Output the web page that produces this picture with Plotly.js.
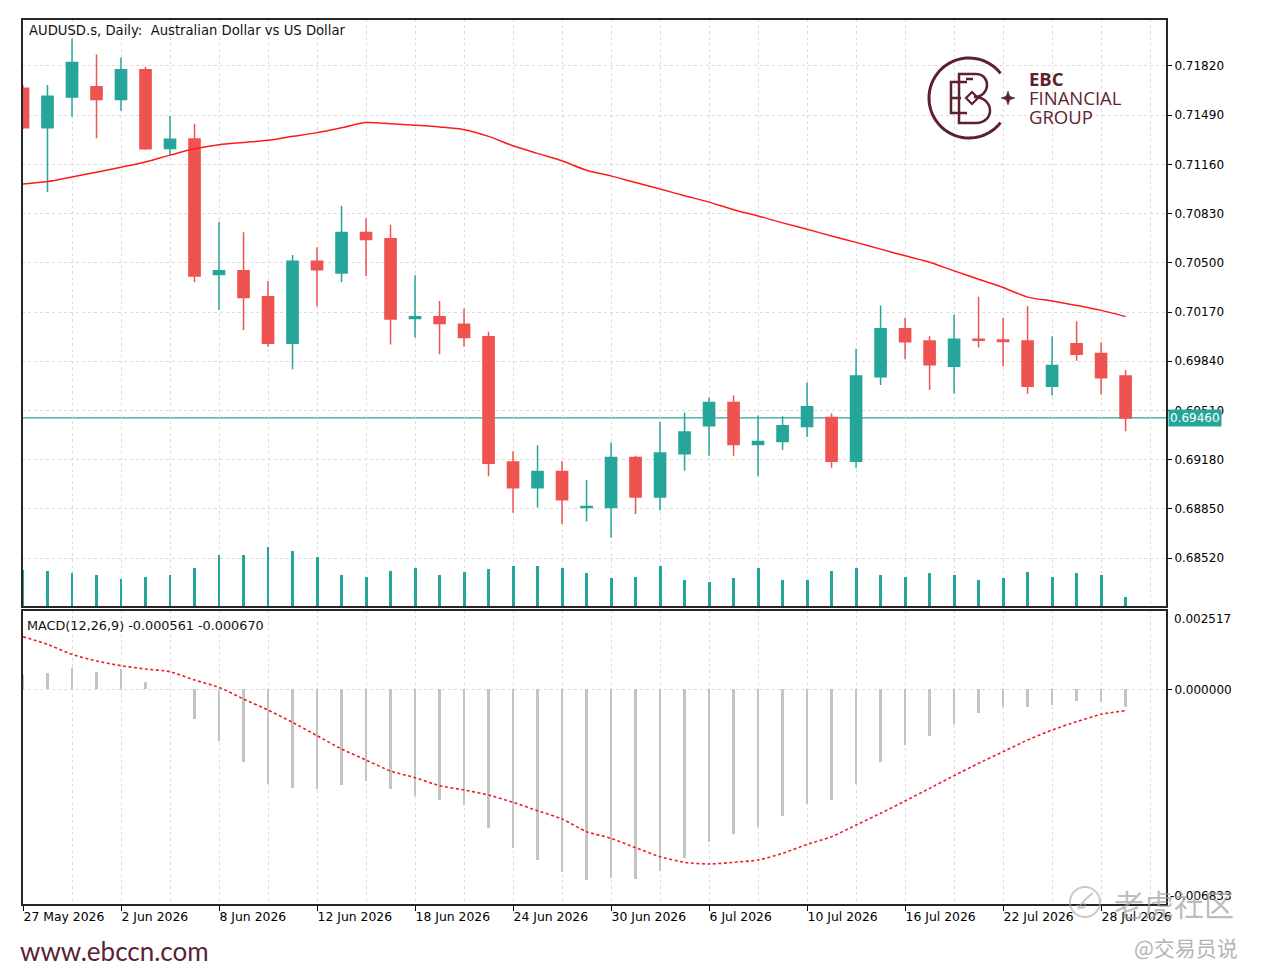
<!DOCTYPE html>
<html>
<head>
<meta charset="utf-8">
<script src="https://cdn.plot.ly/plotly-3.0.1.min.js"></script>
<style>html,body{margin:0;padding:0;background:#fff;}#chart{width:1267px;height:977px;}</style>
</head>
<body>
<div id="chart"></div>
<script>
// ---------- DATA ----------
const dates = ['27 May 2026','28 May 2026','29 May 2026','1 Jun 2026','2 Jun 2026','3 Jun 2026','4 Jun 2026','5 Jun 2026',
 '8 Jun 2026','9 Jun 2026','10 Jun 2026','11 Jun 2026','12 Jun 2026','15 Jun 2026','16 Jun 2026','17 Jun 2026',
 '18 Jun 2026','19 Jun 2026','22 Jun 2026','23 Jun 2026','24 Jun 2026','25 Jun 2026','26 Jun 2026','29 Jun 2026',
 '30 Jun 2026','1 Jul 2026','2 Jul 2026','3 Jul 2026','6 Jul 2026','7 Jul 2026','8 Jul 2026','9 Jul 2026',
 '10 Jul 2026','13 Jul 2026','14 Jul 2026','15 Jul 2026','16 Jul 2026','17 Jul 2026','20 Jul 2026','21 Jul 2026',
 '22 Jul 2026','23 Jul 2026','24 Jul 2026','27 Jul 2026','28 Jul 2026','29 Jul 2026'];

const openP  = [0.71670,0.71406,0.71612,0.71680,0.71595,0.71794,0.71267,0.71330,0.70421,0.70446,0.70272,0.69960,0.70511,0.70431,0.70703,0.70662,
 0.70126,0.70139,0.70088,0.70005,0.69164,0.68992,0.69101,0.68859,0.68859,0.69194,0.68929,0.69219,0.69408,0.69564,0.69282,0.69302,
 0.69403,0.69463,0.69169,0.69736,0.70058,0.69975,0.69806,0.69987,0.69982,0.69975,0.69673,0.69957,0.69892,0.69741];
const highP  = [0.71690,0.71693,0.72003,0.71897,0.71877,0.71814,0.71484,0.71433,0.70776,0.70705,0.70378,0.70552,0.70605,0.70882,0.70799,0.70756,
 0.70416,0.70244,0.70194,0.70038,0.69237,0.69277,0.69169,0.69043,0.69295,0.69207,0.69433,0.69496,0.69597,0.69610,0.69476,0.69471,
 0.69698,0.69489,0.69924,0.70214,0.70131,0.70008,0.70151,0.70272,0.70131,0.70209,0.70008,0.70108,0.69967,0.69781];
const lowP   = [0.71398,0.70975,0.71479,0.71335,0.71519,0.71259,0.71222,0.70370,0.70184,0.70050,0.69937,0.69786,0.70207,0.70370,0.70411,0.69952,
 0.70000,0.69887,0.69937,0.69068,0.68824,0.68859,0.68748,0.68766,0.68657,0.68816,0.68841,0.69106,0.69207,0.69207,0.69068,0.69244,
 0.69332,0.69126,0.69126,0.69680,0.69854,0.69647,0.69622,0.69932,0.69806,0.69622,0.69610,0.69844,0.69617,0.69370];
const closeP = [0.71406,0.71617,0.71844,0.71595,0.71794,0.71265,0.71328,0.70411,0.70446,0.70267,0.69960,0.70511,0.70453,0.70703,0.70657,0.70123,
 0.70139,0.70093,0.70000,0.69156,0.68992,0.69101,0.68912,0.68866,0.69194,0.68929,0.69224,0.69365,0.69564,0.69282,0.69302,0.69408,
 0.69534,0.69169,0.69741,0.70058,0.69970,0.69816,0.69987,0.69980,0.69972,0.69673,0.69811,0.69887,0.69730,0.69460];

const movingAvg = [0.71028,0.71045,0.71076,0.71108,0.71141,0.71176,0.71222,0.71265,0.71292,0.71307,0.71322,0.71348,0.71373,0.71406,0.71441,0.71433,
 0.71423,0.71411,0.71393,0.71348,0.71285,0.71234,0.71184,0.71121,0.71083,0.71038,0.70995,0.70950,0.70907,0.70856,0.70814,0.70768,
 0.70725,0.70680,0.70637,0.70592,0.70547,0.70504,0.70446,0.70390,0.70335,0.70270,0.70244,0.70214,0.70181,0.70139];

const tickVolume = [74000,72800,68000,64000,57000,60800,64000,78800,104000,104000,120800,112600,100000,64000,60800,72800,
 77200,64000,70000,76000,82600,82600,78800,68000,58000,60800,82600,54800,51000,58000,78800,54800,
 54800,72800,78800,64000,60800,68000,64000,54800,58000,70000,60800,68000,64000,21000];

const macdMain = [0.000450,0.000509,0.000668,0.000562,0.000636,0.000224,0.000020,-0.000938,-0.001625,-0.002290,-0.002998,-0.003136,-0.003167,-0.003030,-0.002893,-0.003167,
 -0.003379,-0.003505,-0.003664,-0.004382,-0.005037,-0.005407,-0.005777,-0.006041,-0.005967,-0.006009,-0.005756,-0.005354,-0.004826,-0.004594,-0.004351,-0.004002,
 -0.003632,-0.003505,-0.002998,-0.002290,-0.001762,-0.001466,-0.001086,-0.000737,-0.000547,-0.000547,-0.000494,-0.000368,-0.000389,-0.000561];
const macdSignal = [0.001671,0.001428,0.001111,0.000900,0.000752,0.000647,0.000562,0.000298,0.000066,-0.000304,-0.000653,-0.001044,-0.001466,-0.001889,-0.002238,-0.002586,
 -0.002798,-0.003051,-0.003188,-0.003347,-0.003579,-0.003844,-0.004108,-0.004509,-0.004720,-0.005016,-0.005302,-0.005481,-0.005534,-0.005481,-0.005407,-0.005196,
 -0.004911,-0.004668,-0.004298,-0.003928,-0.003537,-0.003136,-0.002734,-0.002343,-0.001974,-0.001604,-0.001287,-0.001023,-0.000790,-0.000670];

const priceTicks = [0.71820,0.71490,0.71160,0.70830,0.70500,0.70170,0.69840,0.69510,0.69180,0.68850,0.68520];
const macdMax = 0.002517, macdMin = -0.006833;
const currentPrice = 0.69460;
const labelEvery = 4;

// ---------- BUILD ----------
const idx = dates.map((d,i)=>i);
const tickIdx = idx.filter(i=>i%labelEvery===0);
const tickTxt = tickIdx.map(i=>dates[i]);

const TEAL = '#26a69a', RED = '#ef5350', MAROON = '#5e1f2f';
const FONT = 'DejaVu Sans, Verdana, sans-serif';
const W = 1267, H = 977, ML = 22, MR = 100, MT = 19, MB = 72;
const PW = W-ML-MR, PH = H-MT-MB;
const px = x => (x-ML)/PW;
const py = y => 1-(y-MT)/PH;
const mainBottom = py(607), macdTop = py(610);

const traces = [
  {type:'candlestick', x:idx, open:openP, high:highP, low:lowP, close:closeP, xaxis:'x', yaxis:'y',
   increasing:{line:{color:TEAL,width:1.5}, fillcolor:TEAL},
   decreasing:{line:{color:RED,width:1.5}, fillcolor:RED},
   whiskerwidth:0, hoverinfo:'skip'},
  {type:'scatter', mode:'lines', x:idx, y:movingAvg, xaxis:'x', yaxis:'y',
   line:{color:'#ff1a1a', width:1.5, shape:'spline', smoothing:0.8}, hoverinfo:'skip'},
  {type:'bar', x:idx, y:tickVolume, xaxis:'x', yaxis:'y3', width:0.12,
   marker:{color:TEAL, line:{width:0}}, hoverinfo:'skip'},
  {type:'bar', x:idx, y:macdMain, xaxis:'x', yaxis:'y2', width:0.1,
   marker:{color:'#c4c4c4', line:{width:0}}, hoverinfo:'skip'},
  {type:'scatter', mode:'lines', x:idx, y:macdSignal, xaxis:'x', yaxis:'y2',
   line:{color:'#f01c2c', width:1.6, dash:'3px,2.5px', shape:'spline', smoothing:0.6}, hoverinfo:'skip'}
];

function arcPath(r, a0, a1, n){
  let d='';
  for(let k=0;k<=n;k++){
    const a=(a0+(a1-a0)*k/n)*Math.PI/180;
    d+=(k?'L':'M')+(r*Math.cos(a)).toFixed(2)+','+(r*Math.sin(a)).toFixed(2);
  }
  return d;
}
const logoX = px(969), logoY = py(98);
const pixShape = (path, xa, ya, extra) => Object.assign({type:'path', xref:'paper', yref:'paper',
  xsizemode:'pixel', ysizemode:'pixel', xanchor:xa, yanchor:ya, path:path, layer:'above'}, extra);

const gridStyle = {gridcolor:'#dcdcdc', griddash:'3px,3px', gridwidth:1};

const shapes = [
  {type:'line', xref:'paper', yref:'y', x0:0, x1:1, y0:currentPrice, y1:currentPrice,
   line:{color:TEAL, width:1.2}, layer:'below'},
  {type:'rect', xref:'paper', yref:'paper', x0:0, x1:1, y0:mainBottom, y1:1, line:{color:'#262626', width:2}},
  {type:'rect', xref:'paper', yref:'paper', x0:0, x1:1, y0:0, y1:macdTop, line:{color:'#262626', width:2}},
  // logo
  pixShape(arcPath(40, 38, 322, 72), logoX, logoY, {line:{color:MAROON, width:3}}),
  pixShape('M-10,24 L7,24 C22,24 22,1 5,1 C26,1 26,-25 7,-25 L-10,-25 Z', logoX, logoY, {line:{color:MAROON, width:2.5}}),
  pixShape('M-2,16 L-18,16 L-18,-15 L-2,-15 M-18,0 L-8,0 M-3,19 L4,19', logoX, logoY, {line:{color:MAROON, width:2.5}}),
  pixShape('M3,6 L9,0 L3,-6 L-3,0 Z', logoX, logoY, {line:{color:MAROON, width:2.2}}),
  pixShape('M0,7 L1.8,1.8 L7,0 L1.8,-1.8 L0,-7 L-1.8,-1.8 L-7,0 L-1.8,1.8 Z', px(1008), py(98), {line:{color:MAROON, width:0.5}, fillcolor:MAROON}),
  // watermark circle
  {type:'circle', xref:'paper', yref:'paper', xsizemode:'pixel', ysizemode:'pixel', xanchor:px(1085), yanchor:py(902),
   x0:-15, x1:15, y0:-15, y1:15, line:{color:'rgba(165,165,165,0.6)', width:2}, layer:'above'},
  pixShape('M-7,-7 C-2,2 4,6 8,9 M-8,-3 C-4,-8 2,-6 -1,-1', px(1085), py(902), {line:{color:'rgba(165,165,165,0.6)', width:2}})
];

const ann = (text, x, y, o) => Object.assign({text:text, xref:'paper', yref:'paper', x:x, y:y, xanchor:'left', yanchor:'middle',
  showarrow:false, font:{family:FONT, size:12, color:'#000'}}, o||{});

const annotations = [
  ann('AUDUSD.s, Daily:  Australian Dollar vs US Dollar', px(27), py(30), {font:{family:FONT, size:13.2, color:'#111'}}),
  ann('MACD(12,26,9) -0.000561 -0.000670', px(25), py(625), {font:{family:FONT, size:12.8, color:'#111'}}),
  {text:currentPrice.toFixed(5), xref:'paper', yref:'y', x:1, y:currentPrice, xanchor:'left', yanchor:'middle', xshift:1,
   showarrow:false, bgcolor:TEAL, borderpad:1, font:{family:FONT, size:12, color:'#fff'}},
  {text:macdMax.toFixed(6), xref:'paper', yref:'y2', x:1, y:macdMax, xanchor:'left', yanchor:'top', xshift:5,
   showarrow:false, font:{family:FONT, size:12, color:'#000'}},
  {text:macdMin.toFixed(6), xref:'paper', yref:'y2', x:1, y:macdMin, xanchor:'left', yanchor:'bottom', xshift:1,
   showarrow:false, font:{family:FONT, size:12, color:'#000'}},
  ann('www.ebccn.com', px(18), py(951), {font:{family:'Lato, Open Sans, sans-serif', size:26, color:'#5b1f36'}}),
  ann('<b>EBC</b>', px(1027), py(78), {font:{family:'Open Sans, sans-serif', size:18.5, color:MAROON}}),
  ann('FINANCIAL', px(1027), py(97), {font:{family:'Open Sans, sans-serif', size:18.5, color:MAROON}}),
  ann('GROUP', px(1027), py(116), {font:{family:'Open Sans, sans-serif', size:18.5, color:MAROON}}),
  ann('老虎社区', px(1112), py(903), {font:{family:'Noto Sans CJK SC, sans-serif', size:30, color:'rgba(160,160,160,0.7)'}}),
  ann('@交易员说', px(1132), py(947), {font:{family:'Noto Sans CJK SC, sans-serif', size:21, color:'#b4b4b4'}})
];

const layout = {
  width:W, height:H, margin:{l:ML, r:MR, t:MT, b:MB, pad:0},
  paper_bgcolor:'#fff', plot_bgcolor:'#fff', showlegend:false,
  boxgap:0.35, bargap:0,
  font:{family:FONT, size:12, color:'#000'},
  xaxis:Object.assign({range:[-0.041, 46.69], anchor:'y2', showgrid:true, zeroline:false, showline:false,
    tickmode:'array', tickvals:tickIdx, ticktext:tickTxt, ticks:'outside', ticklen:5, tickwidth:1, tickcolor:'#000',
    ticklabelposition:'outside right', tickfont:{family:FONT, size:12.4, color:'#000'},
    rangeslider:{visible:false}, fixedrange:true,
    minor:Object.assign({tickmode:'linear', tick0:0, dtick:2, showgrid:true, ticks:''}, gridStyle)}, gridStyle),
  yaxis:Object.assign({domain:[mainBottom,1], range:[0.68192,0.72135], side:'right', anchor:'x',
    tickmode:'array', tickvals:priceTicks, ticktext:priceTicks.map(v=>v.toFixed(5)),
    ticks:'outside', ticklen:4, tickcolor:'#000', showgrid:true, zeroline:false, showline:false,
    tickfont:{family:FONT, size:12, color:'#000'}, fixedrange:true}, gridStyle),
  yaxis2:Object.assign({domain:[0,macdTop], range:[macdMin, macdMax], side:'right', anchor:'x',
    tickmode:'array', tickvals:[0], ticktext:['0.000000'], ticks:'outside', ticklen:4, tickcolor:'#000',
    showgrid:true, zeroline:false, showline:false, tickfont:{family:FONT, size:12, color:'#000'}, fixedrange:true}, gridStyle),
  yaxis3:{overlaying:'y', range:[0,1176000], visible:false, showgrid:false, zeroline:false, fixedrange:true},
  shapes:shapes,
  annotations:annotations
};

Plotly.newPlot('chart', traces, layout, {staticPlot:true, displayModeBar:false});
</script>
</body>
</html>
